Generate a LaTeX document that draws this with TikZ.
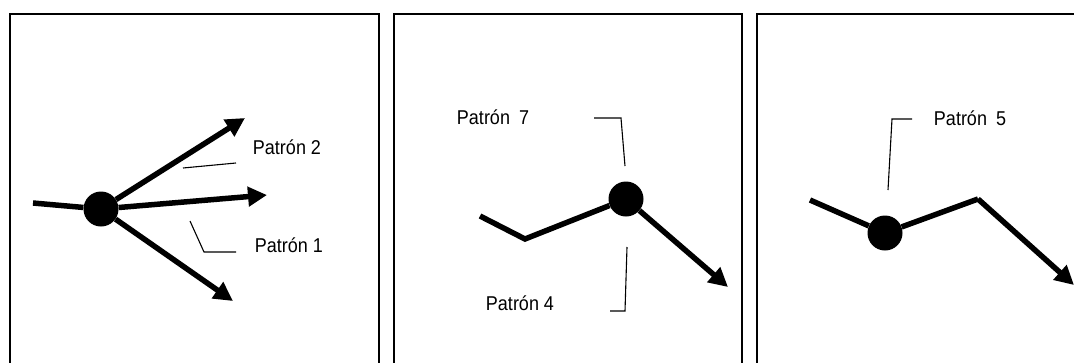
\documentclass[tikz,border=0pt]{standalone}
\usepackage{fontspec}
\setmainfont{Liberation Sans}
\newfontfamily\tagfont[FakeStretch=0.9]{Liberation Sans}
\usetikzlibrary{arrows.meta}
\tikzset{
  hub/.style={circle, fill, inner sep=0pt, minimum size=35pt},
  flow/.style={line width=5.5pt},
  flowarrow/.style={flow, -{Triangle[length=19pt,width=19pt]}},
  lead/.style={line width=1.1pt},
  tag/.style={font=\tagfont\fontsize{20}{22}\selectfont, inner sep=0pt},
  panel/.style={draw, line width=1.4pt},
}

\begin{document}
\begin{tikzpicture}[x=1pt, y=-1pt]
      \useasboundingbox (0,0) rectangle (1074,362);

      % panels
      \draw [panel] (10,14) rectangle (379,390);
      \draw [panel] (394,14) rectangle (742,390);
      \draw [panel] (757,14) rectangle (1100,390);

      % first panel
      \node [hub]  (hub1)  at (101,209) {};
      \coordinate  (t1)  at (33,203);
      \coordinate  (a1)  at (245,118);
      \coordinate  (a2)  at (267,195);
      \coordinate  (a3)  at (233,301);
      \draw [flow]       (t1) to (hub1);
      \draw [flowarrow]  (hub1) to (a1);
      \draw [flowarrow]  (hub1) to (a2);
      \draw [flowarrow]  (hub1) to (a3);

      \node [tag]  (p2)  at (287,147) {Patrón 2};
      \node [tag]  (p1)  at (289,245) {Patrón 1};
      \coordinate  (l2a)  at (183,168);
      \coordinate  (l2b)  at (236,163);
      \draw [lead] (l2a) to (l2b);
      \coordinate  (l1a)  at (190,221);
      \coordinate  (l1b)  at (204,252);
      \coordinate  (l1c)  at (236,252);
      \draw [lead] (l1a) -- (l1b) -- (l1c);

      % second panel
      \node [hub]  (hub2)  at (626,199) {};
      \coordinate  (t2)  at (480,216);
      \coordinate  (b2)  at (525,239);
      \coordinate  (a4)  at (728,287);
      \draw [flow]       (t2) -- (b2) -- (hub2);
      \draw [flowarrow]  (hub2) to (a4);

      \node [tag]  (p7)  at (493,117) {Patrón\hspace{9pt}7};
      \node [tag]  (p4)  at (520,303) {Patrón 4};
      \coordinate  (l7a)  at (594,118);
      \coordinate  (l7b)  at (621,118);
      \coordinate  (l7c)  at (625,166);
      \draw [lead] (l7a) -- (l7b) -- (l7c);
      \coordinate  (l4a)  at (627,247);
      \coordinate  (l4b)  at (625,311);
      \coordinate  (l4c)  at (610,311);
      \draw [lead] (l4a) -- (l4b) -- (l4c);

      % third panel
      \node [hub]  (hub3)  at (885,233) {};
      \coordinate  (t3)  at (810,200);
      \coordinate  (b3)  at (978,199);
      \coordinate  (a5)  at (1074,285);
      \draw [flow]       (t3) to (hub3);
      \draw [flow]       (hub3) to (b3);
      \draw [flowarrow]  (b3) to (a5);

      \node [tag]  (p5)  at (970,118) {Patrón\hspace{9pt}5};
      \coordinate  (l5a)  at (912,119);
      \coordinate  (l5b)  at (892,119);
      \coordinate  (l5c)  at (888,190);
      \draw [lead] (l5a) -- (l5b) -- (l5c);
\end{tikzpicture}
\end{document}
